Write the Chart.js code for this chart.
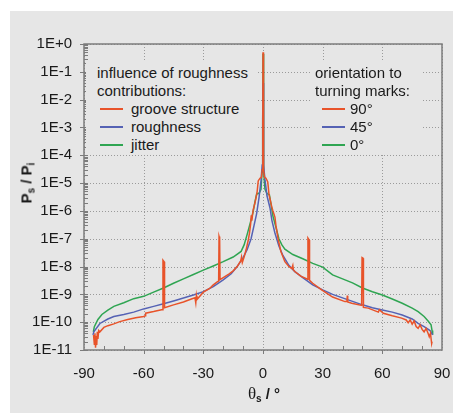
<!DOCTYPE html>
<html>
<head>
<meta charset="utf-8">
<script src="https://cdn.jsdelivr.net/npm/chart.js@4.4.1/dist/chart.umd.min.js"></script>
<style>
  body { margin: 0; background: #ffffff; }
  #wrap { position: relative; width: 453px; height: 413px; overflow: hidden; }
  #bg { position: absolute; left: 10px; top: 11px; right: 0; bottom: 0; background: #e6e6e6; }
  #chart { position: absolute; left: 0; top: 0; }
  .leg {
    position: absolute; background: #e6e6e6;
    font: 15px "Liberation Sans", Arial, sans-serif; color: #1a1a1a;
  }
  .row { position: absolute; height: 18px; line-height: 18px; white-space: nowrap; }
  .swatch { position: absolute; height: 2px; }
  .title { position: absolute; font: bold 15px "Liberation Sans", Arial, sans-serif; color: #1a1a1a; white-space: nowrap; }
  .title sub { font-size: 10px; vertical-align: -3px; }
</style>
</head>
<body>
<div id="wrap">
  <div id="bg"></div>
  <canvas id="chart" width="453" height="413"></canvas>
  <div class="leg" id="legLeft" style="left:86px;top:60px;width:170px;height:94px;"></div>
  <div class="leg" id="legRight" style="left:311px;top:60px;width:112px;height:94px;"></div>
  <div class="title" id="yTitle" style="left:27px;top:183px;transform:translate(-50%,-50%) rotate(-90deg);">P<sub>s</sub> / P<sub>i</sub></div>
  <div class="title" id="xTitle" style="left:264px;top:394px;transform:translate(-50%,-50%);"><span style="font-weight:normal;font-family:'Liberation Serif',serif;font-size:17px;">θ</span><sub>s</sub> / °</div>
</div>
<script>
// ---- data ----
const xTicks = [-90, -60, -30, 0, 30, 60, 90];
const yTickValues = [1e-11, 1e-10, 1e-9, 1e-8, 1e-7, 1e-6, 1e-5, 1e-4, 1e-3, 1e-2, 1e-1, 1];
const yTickLabels = ["1E-11", "1E-10", "1E-9", "1E-8", "1E-7", "1E-6", "1E-5", "1E-4", "1E-3", "1E-2", "1E-1", "1E+0"];

const seriesNames = ["groove structure", "roughness", "jitter"];
const orientationNames = ["90°", "45°", "0°"];
const seriesColors = ["#e8532a", "#5562b4", "#2fa552"];

const grooveAngles = [
  -85.2, -84.8, -84.5, -84.2, -83.9, -83.6, -83.3, -83, -82.6, -82, -80, -78, -75, -72, -68, -64, -60, -59.2, -59, -55, -51,
  -50.5, -50.3, -49.7, -49.5, -45, -40, -36, -34.2, -33.8, -33.5, -33.2, -30, -27, -25, -23,
  -22.3, -22.1, -21.8, -21.6, -20, -17, -15, -13, -11.2, -10.8, -10.4, -9.5, -8.5, -7.4, -6.8, -6.2, -5.9, -5.6, -5.2, -4.9,
  -4, -3, -2.4, -1.5, -0.8, -0.4, -0.1, 0, 0.1, 0.4, 0.8, 1.5, 2.4, 3, 4.4, 5, 6, 6.5, 7.7, 9, 11, 13, 14.5, 15, 15.3, 16, 19,
  22.4, 22.6, 23.2, 23.4, 25, 29.5, 35, 41.2, 42.2, 42.4, 42.6, 44.6,
  49.6, 49.8, 50.3, 50.5, 52.9, 58, 58.5, 60.5, 65, 69.7, 72, 73, 74, 75, 76, 77, 78, 79, 80, 81, 82, 83, 83.6, 84.2, 84.8, 85
];
const grooveValues = [
  3.5e-11, 1.6e-11, 4e-11, 1.2e-11, 3.2e-11, 1.5e-11, 4.5e-11, 2.5e-11, 5e-11, 4.5e-11, 6.5e-11, 7.5e-11, 8.7e-11, 1.05e-10, 1.25e-10, 1.45e-10, 1.6e-10, 1.7e-10, 2.1e-10, 2.4e-10, 2.8e-10,
  2.8e-10, 1.7e-8, 1.5e-8, 3.3e-10, 4.2e-10, 5.3e-10, 6.8e-10, 7.5e-10, 5e-10, 9e-10, 6.5e-10, 1.2e-9, 1.6e-9, 2.2e-9, 2.8e-9,
  3e-9, 1.2e-7, 1e-7, 3.4e-9, 4e-9, 5.5e-9, 7e-9, 1e-8, 1.6e-8, 2.2e-8, 1.4e-8, 2.2e-8, 4e-8, 9e-8, 1.6e-7, 3.5e-7, 7e-7, 4.5e-7, 8e-7, 1.1e-6,
  2e-6, 4.5e-6, 1.2e-5, 1.5e-5, 1.6e-5, 3e-5, 2e-3, 5e-1, 2e-3, 3e-5, 1.6e-5, 1.5e-5, 1.1e-5, 4e-6, 1.4e-6, 1e-6, 6e-7, 3e-7, 9e-8, 3.5e-8, 1.5e-8, 1e-8, 8.5e-9, 1.1e-8, 7.5e-9, 6.6e-9, 4.5e-9,
  3.5e-9, 1.05e-7, 9e-8, 3.2e-9, 2.5e-9, 1.45e-9, 8e-10, 5.5e-10, 5.5e-10, 9e-10, 5.3e-10, 4.8e-10,
  4e-10, 2.1e-8, 2e-8, 3.4e-10, 3.2e-10, 2.3e-10, 2.8e-10, 2.1e-10, 1.7e-10, 1.4e-10, 1.2e-10, 9.5e-11, 1.2e-10, 8.5e-11, 1.1e-10, 7e-11, 6e-11, 8e-11, 5.5e-11, 4.5e-11, 6e-11, 4e-11, 3e-11, 4e-11, 1.7e-11, 2e-11
];

const roughAngles = [
  -85.5, -85, -82, -78, -75, -70, -65, -60, -55, -50, -45, -40, -35, -30, -25, -20, -16, -13, -10, -8, -6, -4.5, -3.2, -2, -1, -0.4, -0.15, 0,
  0.15, 0.4, 1, 2, 3.5, 4.5, 6, 8, 10, 13, 16, 20, 25, 30, 35, 40, 45, 50, 55, 60, 65, 70, 75, 78, 81, 84, 85.3
];
const roughValues = [
  3.5e-11, 4.6e-11, 9e-11, 1.3e-10, 1.6e-10, 1.9e-10, 2.3e-10, 3e-10, 3.7e-10, 4.6e-10, 5.8e-10, 7.4e-10, 9.5e-10, 1.25e-9, 1.9e-9, 3.3e-9, 5.5e-9, 1e-8, 2.1e-8, 4e-8, 1e-7, 3e-7, 8e-7, 3e-6, 1.2e-5, 4.5e-5, 2e-3, 4e-2,
  2e-3, 4.5e-5, 1.3e-5, 3.5e-6, 1.3e-6, 4.5e-7, 1.6e-7, 5.5e-8, 2.5e-8, 1.1e-8, 6.6e-9, 4e-9, 2.2e-9, 1.45e-9, 1e-9, 7.5e-10, 5.6e-10, 4.2e-10, 3.3e-10, 2.75e-10, 2.3e-10, 1.8e-10, 1.3e-10, 9.1e-11, 6.9e-11, 5e-11, 3.5e-11
];

const jitterAngles = [
  -85.3, -84.8, -83, -81, -78, -75, -70, -65, -60, -55, -50, -45, -40, -35, -30, -25, -20, -15, -11, -9.5, -8, -6.5, -5, -4, -3.2, -2, -1, -0.5, -0.15, 0,
  0.15, 0.5, 1, 2, 3.2, 4, 5, 6.5, 8, 9.5, 11, 15, 20, 25, 30, 35, 40, 45, 50, 55, 60, 65, 70, 75, 78, 81, 83, 84.5, 85, 85.3
];
const jitterValues = [
  4.5e-11, 6.9e-11, 1.25e-10, 1.9e-10, 2.7e-10, 3.7e-10, 5e-10, 7e-10, 8.5e-10, 1.2e-9, 1.7e-9, 2.5e-9, 3.6e-9, 5.2e-9, 7.4e-9, 1.05e-8, 1.5e-8, 2.2e-8, 3.5e-8, 6e-8, 1.4e-7, 3.5e-7, 9e-7, 2.2e-6, 4e-6, 4.3e-6, 6e-6, 2.5e-5, 1e-3, 4.5e-1,
  1e-3, 2.5e-5, 6e-6, 4.2e-6, 3.8e-6, 1.8e-6, 6.5e-7, 2.6e-7, 1e-7, 6e-8, 4.2e-8, 2.7e-8, 1.9e-8, 1.3e-8, 9.5e-9, 5e-9, 3.6e-9, 2.6e-9, 1.7e-9, 1.25e-9, 9.5e-10, 6.8e-10, 4.8e-10, 3.2e-10, 2.4e-10, 1.6e-10, 1.1e-10, 8e-11, 5e-11, 3.5e-11
];

// ---- helpers ----
function toPoints(xs, ys) {
  return xs.map((x, i) => ({ x: x, y: ys[i] }));
}

function buildLegend(el, heading, names, offsets) {
  const rows = heading.concat(names);
  rows.forEach((txt, i) => {
    const row = document.createElement("div");
    row.className = "row";
    row.style.top = 4 + i * 18 + "px";
    if (i < heading.length) {
      row.style.left = offsets.head + "px";
      row.textContent = txt;
    } else {
      const k = i - heading.length;
      const sw = document.createElement("div");
      sw.className = "swatch";
      sw.style.background = seriesColors[k];
      sw.style.left = offsets.line + "px";
      sw.style.width = "23px";
      sw.style.top = "8px";
      const label = document.createElement("div");
      label.className = "row";
      label.style.left = offsets.text + "px";
      label.textContent = txt;
      row.style.left = "0px";
      row.style.width = "100%";
      row.appendChild(sw);
      row.appendChild(label);
    }
    el.appendChild(row);
  });
}

buildLegend(document.getElementById("legLeft"), ["influence of roughness", "contributions:"], seriesNames,
  { head: 11, line: 14, text: 45 });
buildLegend(document.getElementById("legRight"), ["orientation to", "turning marks:"], orientationNames,
  { head: 4, line: 11, text: 39 });

// grid, frame and minor ticks
const framePlugin = {
  id: "frame",
  beforeDatasetsDraw(chart) {
    const { ctx, chartArea: a, scales } = chart;
    ctx.save();
    ctx.strokeStyle = "#9a9a9a";
    ctx.lineWidth = 1;
    ctx.setLineDash([1, 2]);
    xTicks.forEach((v) => {
      const px = Math.round(scales.x.getPixelForValue(v)) + 0.5;
      ctx.beginPath();
      ctx.moveTo(px, a.top);
      ctx.lineTo(px, a.bottom);
      ctx.stroke();
    });
    yTickValues.forEach((v) => {
      const py = Math.round(scales.y.getPixelForValue(v)) + 0.5;
      ctx.beginPath();
      ctx.moveTo(a.left, py);
      ctx.lineTo(a.right, py);
      ctx.stroke();
    });
    ctx.restore();
  },
  afterDatasetsDraw(chart) {
    const { ctx, chartArea: a, scales } = chart;
    ctx.save();
    ctx.strokeStyle = "#7c7c7c";
    ctx.lineWidth = 1;
    // minor ticks on y (inside)
    for (let d = -11; d < 0; d++) {
      for (let k = 2; k <= 9; k++) {
        const py = Math.round(scales.y.getPixelForValue(k * Math.pow(10, d))) + 0.5;
        ctx.beginPath();
        ctx.moveTo(a.left, py);
        ctx.lineTo(a.left + 4, py);
        ctx.stroke();
      }
    }
    yTickValues.forEach((v) => {
      const py = Math.round(scales.y.getPixelForValue(v)) + 0.5;
      ctx.beginPath();
      ctx.moveTo(a.left - 4, py);
      ctx.lineTo(a.left + 4, py);
      ctx.stroke();
    });
    // ticks on x
    for (let v = -80; v <= 80; v += 10) {
      const px = Math.round(scales.x.getPixelForValue(v)) + 0.5;
      ctx.beginPath();
      if (v % 30 === 0) {
        ctx.moveTo(px, a.bottom);
        ctx.lineTo(px, a.bottom + 4);
      } else {
        ctx.moveTo(px, a.bottom);
        ctx.lineTo(px, a.bottom - 4);
      }
      ctx.stroke();
    }
    // frame
    ctx.lineWidth = 1.5;
    ctx.strokeRect(a.left, a.top, a.right - a.left, a.bottom - a.top);
    ctx.restore();
  },
};

// ---- chart ----
const chart = new Chart(document.getElementById("chart"), {
  type: "line",
  data: {
    datasets: [
      { label: seriesNames[0], data: toPoints(grooveAngles, grooveValues), borderColor: seriesColors[0] },
      { label: seriesNames[1], data: toPoints(roughAngles, roughValues), borderColor: seriesColors[1] },
      { label: seriesNames[2], data: toPoints(jitterAngles, jitterValues), borderColor: seriesColors[2] },
    ],
  },
  options: {
    responsive: false,
    animation: false,
    layout: { padding: { left: 0, top: 44, right: 11, bottom: 0 } },
    elements: {
      point: { radius: 0 },
      line: { borderWidth: 1.5, tension: 0 },
    },
    plugins: { legend: { display: false }, tooltip: { enabled: false } },
    scales: {
      x: {
        type: "linear",
        min: -90,
        max: 90,
        grid: { display: false, drawTicks: false },
        border: { display: false },
        afterBuildTicks: (scale) => {
          scale.ticks = xTicks.map((v) => ({ value: v }));
        },
        afterFit: (scale) => {
          scale.height = 63;
          scale.paddingLeft = 0;
          scale.paddingRight = 0;
        },
        ticks: {
          padding: 15,
          color: "#1a1a1a",
          font: { family: "'Liberation Sans', Arial, sans-serif", size: 15 },
          maxRotation: 0,
          callback: (v) => String(v),
        },
      },
      y: {
        type: "logarithmic",
        min: 1e-11,
        max: 1,
        grid: { display: false, drawTicks: false },
        border: { display: false },
        afterBuildTicks: (scale) => {
          scale.ticks = yTickValues.map((v) => ({ value: v }));
        },
        afterFit: (scale) => {
          scale.width = 84;
          scale.paddingTop = 0;
          scale.paddingBottom = 0;
        },
        ticks: {
          padding: 12,
          color: "#1a1a1a",
          font: { family: "'Liberation Sans', Arial, sans-serif", size: 15 },
          callback: (v, i) => yTickLabels[i],
        },
      },
    },
  },
  plugins: [framePlugin],
});
</script>
</body>
</html>
